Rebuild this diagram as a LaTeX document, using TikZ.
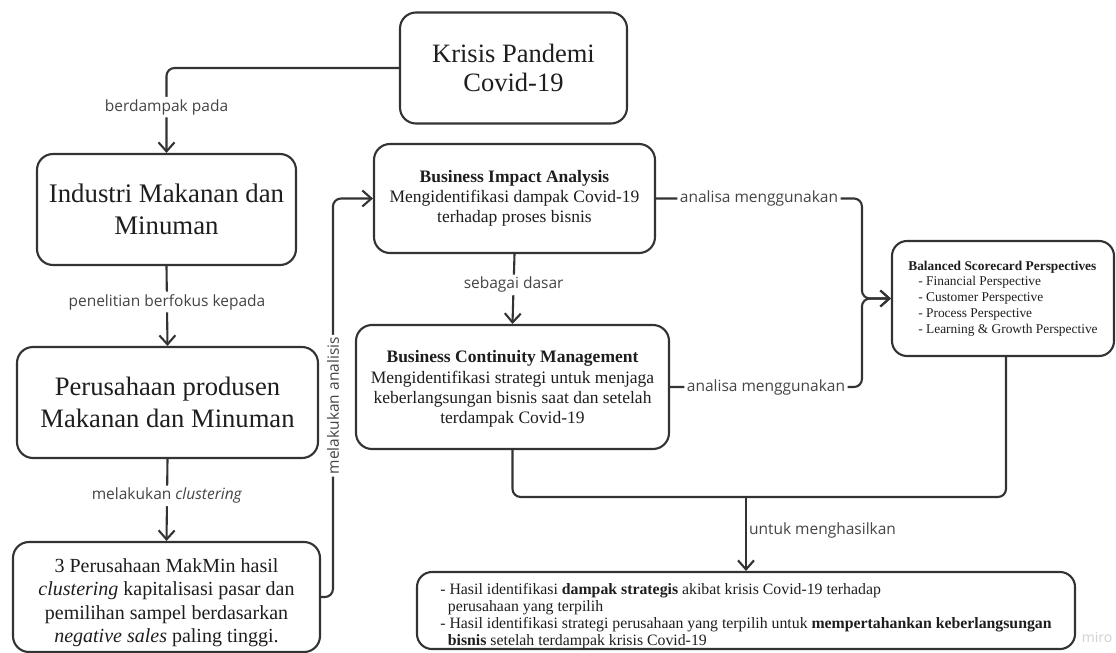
\documentclass[tikz,border=0pt]{standalone}
\usepackage{fontspec}
\setmainfont{Liberation Serif}
\newfontfamily\lblfont{Open Sans}
\usetikzlibrary{arrows.meta}
\definecolor{ln}{HTML}{333333}
\definecolor{tx}{HTML}{1E1E1E}
\definecolor{lt}{HTML}{454545}
\begin{document}
\begin{tikzpicture}[x=1pt,y=-1pt,
  box/.style={draw=ln, line width=2.1pt, rounded corners=16pt, text=tx, align=center, inner sep=0pt},
  line/.style={draw=ln, line width=2.1pt, rounded corners=8pt},
  conn/.style={line, -{Straight Barb[length=9pt,width=16pt]}},
  lbl/.style={font=\lblfont\fontsize{15.5}{18}\selectfont, text=lt, fill=white, inner sep=2.5pt},
  lblnf/.style={font=\lblfont\fontsize{15.5}{18}\selectfont, text=lt, inner sep=2pt}]
\fill[white] (0,0) rectangle (1116,653);
\useasboundingbox (0,0) rectangle (1116,653);

\node[box, minimum width=227pt, minimum height=111pt, font=\fontsize{26.5}{29.5}\selectfont] (krisis) at (513.5,68) {Krisis Pandemi\\Covid-19};
\node[box, minimum width=259pt, minimum height=111pt, font=\fontsize{26.8}{32}\selectfont] (industri) at (166.5,209.5) {Industri Makanan dan\\Minuman};
\node[box, minimum width=301pt, minimum height=111pt, font=\fontsize{26.6}{32}\selectfont] (perus) at (167.5,402.5) {Perusahaan produsen\\Makanan dan Minuman};
\node[box, minimum width=307pt, minimum height=110pt, font=\fontsize{20}{23.5}\selectfont] (tiga) at (166.5,597) {\rule{0pt}{25pt}3 Perusahaan MakMin hasil\\\textit{clustering} kapitalisasi pasar dan\\pemilihan sampel berdasarkan\\\textit{negative sales} paling tinggi.};
\node[box, minimum width=281pt, minimum height=109pt, font=\fontsize{17.5}{20}\selectfont] (bia) at (514.5,198.5) {\textbf{Business Impact Analysis}\\Mengidentifikasi dampak Covid-19\\terhadap proses bisnis};
\node[box, minimum width=313pt, minimum height=124pt, font=\fontsize{17.5}{20.2}\selectfont] (bcm) at (512.5,387) {\rule{0pt}{16pt}\textbf{Business Continuity Management}\\Mengidentifikasi strategi untuk menjaga\\keberlangsungan bisnis saat dan setelah\\terdampak Covid-19};
\node[box, rounded corners=15pt, minimum width=222pt, minimum height=115pt, align=left, font=\fontsize{13.4}{15.75}\selectfont] (bsc) at (1003,298.5) {\textbf{Balanced Scorecard Perspectives}\\\hspace*{10pt}- Financial Perspective\\\hspace*{10pt}- Customer Perspective\\\hspace*{10pt}- Process Perspective\\\hspace*{10pt}- Learning \& Growth Perspective};
\node[box, rounded corners=15pt, minimum width=658pt, minimum height=77pt, align=left, font=\fontsize{15.8}{17.2}\selectfont] (hasil) at (746,610.5) {\rule{0pt}{22pt}- Hasil identifikasi \textbf{dampak strategis} akibat krisis Covid-19 terhadap\\\hspace*{7.5pt}perusahaan yang terpilih\\- Hasil identifikasi strategi perusahaan yang terpilih untuk \textbf{mempertahankan keberlangsungan}\\\hspace*{7.5pt}\textbf{bisnis} setelah terdampak krisis Covid-19};
\node[font=\lblfont\fontsize{14}{16}\selectfont, text=black!18] (miro) at (1097,637) {miro};

\coordinate (ka) at ([xshift=-40pt]bia.west);
\coordinate (jx) at ([xshift=-29pt]bsc.west);
\coordinate (mg) at ([yshift=74pt]hasil.north);

\draw[conn] (krisis.west) -| node[lbl, pos=0.73]{berdampak pada} (industri.north);
\draw[conn] (industri.south) -- node[lbl, pos=0.45]{penelitian berfokus kepada} (perus.north);
\draw[conn] (perus.south) -- node[lbl, pos=0.45]{melakukan \textit{clustering}} (tiga.north);
\draw[conn] (tiga.east) -| node[lbl, rotate=90, pos=0.74]{melakukan analisis} (ka) -- (bia.west);
\draw[conn] (bia.south) -- node[lbl, pos=0.44]{sebagai dasar} (bcm.north);
\draw[conn] (bia.east) -| node[lbl, pos=0.25]{analisa menggunakan} (jx) -- (bsc.west);
\draw[conn] (bcm.east) -| node[lbl, pos=0.25]{analisa menggunakan} (jx) -- (bsc.west);
\draw[line] (bcm.south) |- (mg);
\draw[line] ([xshift=3pt]bsc.south) |- (mg);
\draw[conn] (mg) -- node[lblnf, pos=0.45, anchor=west]{untuk menghasilkan} (hasil.north);
\end{tikzpicture}
\end{document}
